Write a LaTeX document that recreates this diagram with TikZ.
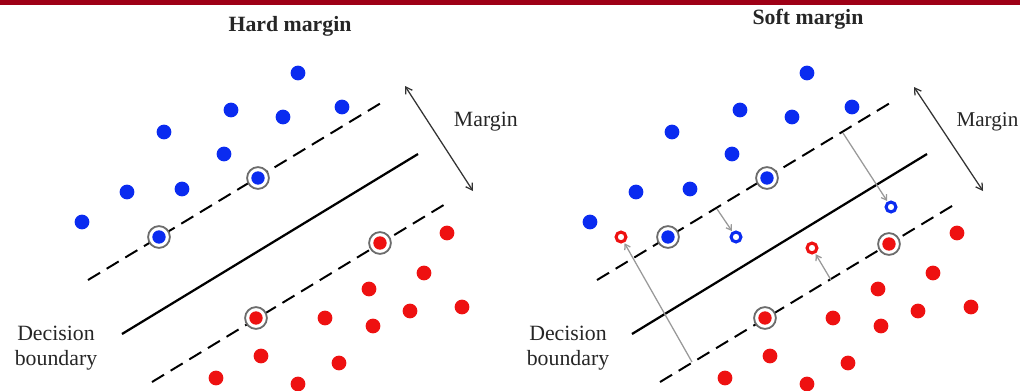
\documentclass[tikz,border=0pt]{standalone}
\usepackage{fontspec}
\setmainfont{Liberation Serif}
\usetikzlibrary{arrows.meta}
\definecolor{barred}{HTML}{9E0016}
\definecolor{ptblue}{HTML}{0A2BF0}
\definecolor{ptred}{HTML}{EE1111}
\definecolor{txt}{HTML}{262626}
\tikzset{
  bdot/.style={circle,fill=ptblue,inner sep=0,minimum size=10.5pt},
  rdot/.style={circle,fill=ptred,inner sep=0,minimum size=10.5pt},
  svring/.style={circle,draw=gray!85!black,line width=1.3pt,fill=white,inner sep=0,minimum size=15.5pt},
  bring/.style={circle,draw=ptblue,line width=2.2pt,fill=white,inner sep=0,minimum size=7pt},
  rring/.style={circle,draw=ptred,line width=2.2pt,fill=white,inner sep=0,minimum size=7pt},
  dline/.style={line width=1.4pt,dash pattern=on 10pt off 5.5pt,line cap=butt},
  sline/.style={line width=1.6pt},
  marr/.style={draw=black!80,line width=0.9pt,{Straight Barb[length=4.5pt,width=5.5pt]}-{Straight Barb[length=4.5pt,width=5.5pt]}},
  garr/.style={draw=gray!80,line width=0.9pt,-{Straight Barb[length=3.5pt,width=4.5pt]},shorten >=0.5pt},
  title/.style={font=\fontsize{15.5}{18}\selectfont\bfseries,text=txt},
  lbl/.style={font=\fontsize{15.5}{18}\selectfont,text=txt,align=center},
}
\begin{document}
\begin{tikzpicture}[x=0.025cm,y=-0.025cm]
\useasboundingbox (0,0) rectangle (1020,390);
\fill[barred] (0,0) rectangle (1020,5);

% ---------------- Hard margin ----------------
\node[title] (t1) at (290,26) {Hard margin};
\coordinate (hu1) at (88,280); \coordinate (hu2) at (386,100);
\coordinate (hs1) at (122,334); \coordinate (hs2) at (418,154);
\coordinate (hl1) at (152,382); \coordinate (hl2) at (447,203);
\draw[dline] (hu1) -- (hu2);
\draw[sline] (hs1) -- (hs2);
\draw[dline] (hl1) -- (hl2);
\coordinate (hm1) at (405,86); \coordinate (hm2) at (473,191);
\draw[marr] (hm1) -- (hm2);
\node[lbl,anchor=west] (hmt) at (449,122) {Margin};
\node[lbl] (hdb) at (56,348) {Decision\\boundary};

\node[bdot] (hb1) at (298,73) {};
\node[bdot] (hb2) at (231,110) {};
\node[bdot] (hb3) at (283,117) {};
\node[bdot] (hb4) at (342,107) {};
\node[bdot] (hb5) at (164,132) {};
\node[bdot] (hb6) at (224,154) {};
\node[bdot] (hb7) at (127,192) {};
\node[bdot] (hb8) at (182,189) {};
\node[bdot] (hb9) at (82,222) {};
\node[svring] (hsv1) at (258,178) {}; \node[bdot,minimum size=9.5pt] (hsv1d) at (hsv1) {};
\node[svring] (hsv2) at (159,237) {}; \node[bdot,minimum size=9.5pt] (hsv2d) at (hsv2) {};

\node[svring] (hsv3) at (380,243) {}; \node[rdot,minimum size=9.5pt] (hsv3d) at (hsv3) {};
\node[svring] (hsv4) at (256,318) {}; \node[rdot,minimum size=9.5pt] (hsv4d) at (hsv4) {};
\node[rdot] (hr1) at (447,233) {};
\node[rdot] (hr2) at (424,273) {};
\node[rdot] (hr3) at (369,289) {};
\node[rdot] (hr4) at (410,311) {};
\node[rdot] (hr5) at (462,307) {};
\node[rdot] (hr6) at (325,318) {};
\node[rdot] (hr7) at (373,326) {};
\node[rdot] (hr8) at (261,356) {};
\node[rdot] (hr9) at (339,363) {};
\node[rdot] (hr10) at (216,378) {};
\node[rdot] (hr11) at (298,384) {};

% ---------------- Soft margin ----------------
\node[title] (t2) at (808,19) {Soft margin};
\coordinate (su1) at (597,280); \coordinate (su2) at (895,100);
\coordinate (ss1) at (632,334); \coordinate (ss2) at (927,154);
\coordinate (sl1) at (660,382); \coordinate (sl2) at (957,203);
\draw[dline] (su1) -- (su2);
\draw[sline] (ss1) -- (ss2);
\draw[dline] (sl1) -- (sl2);
\coordinate (sm1) at (914,87); \coordinate (sm2) at (983,191);
\draw[marr] (sm1) -- (sm2);
\node[lbl,anchor=east,font=\fontsize{15}{18}\selectfont,inner xsep=1pt] (smt) at (1020,122) {Margin};
\node[lbl] (sdb) at (568,348) {Decision\\boundary};

\node[bdot] (sb1) at (807,73) {};
\node[bdot] (sb2) at (740,110) {};
\node[bdot] (sb3) at (792,117) {};
\node[bdot] (sb4) at (852,107) {};
\node[bdot] (sb5) at (672,132) {};
\node[bdot] (sb6) at (732,154) {};
\node[bdot] (sb7) at (636,192) {};
\node[bdot] (sb8) at (690,189) {};
\node[bdot] (sb9) at (590,222) {};
\node[svring] (ssv1) at (767,178) {}; \node[bdot,minimum size=9.5pt] (ssv1d) at (ssv1) {};
\node[svring] (ssv2) at (668,237) {}; \node[bdot,minimum size=9.5pt] (ssv2d) at (ssv2) {};

\node[svring] (ssv3) at (889,244) {}; \node[rdot,minimum size=9.5pt] (ssv3d) at (ssv3) {};
\node[svring] (ssv4) at (765,318) {}; \node[rdot,minimum size=9.5pt] (ssv4d) at (ssv4) {};
\node[rdot] (sr1) at (957,233) {};
\node[rdot] (sr2) at (933,273) {};
\node[rdot] (sr3) at (878,289) {};
\node[rdot] (sr4) at (918,311) {};
\node[rdot] (sr5) at (971,307) {};
\node[rdot] (sr6) at (833,318) {};
\node[rdot] (sr7) at (881,326) {};
\node[rdot] (sr8) at (770,356) {};
\node[rdot] (sr9) at (848,363) {};
\node[rdot] (sr10) at (725,378) {};
\node[rdot] (sr11) at (807,384) {};

% slack points
\node[bring] (xb1) at (891,207) {};
\node[bring] (xb2) at (736,237) {};
\node[rring] (xr1) at (621,237) {};
\node[rring] (xr2) at (812,248) {};
\coordinate (g1) at (843,133);
\coordinate (g2) at (717,209);
\coordinate (g3) at (831,280);
\coordinate (g4) at (692,362);
\draw[garr] (g1) -- (xb1);
\draw[garr] (g2) -- (xb2);
\draw[garr] (g3) -- (xr2);
\draw[garr] (g4) -- (xr1);
\end{tikzpicture}
\end{document}
